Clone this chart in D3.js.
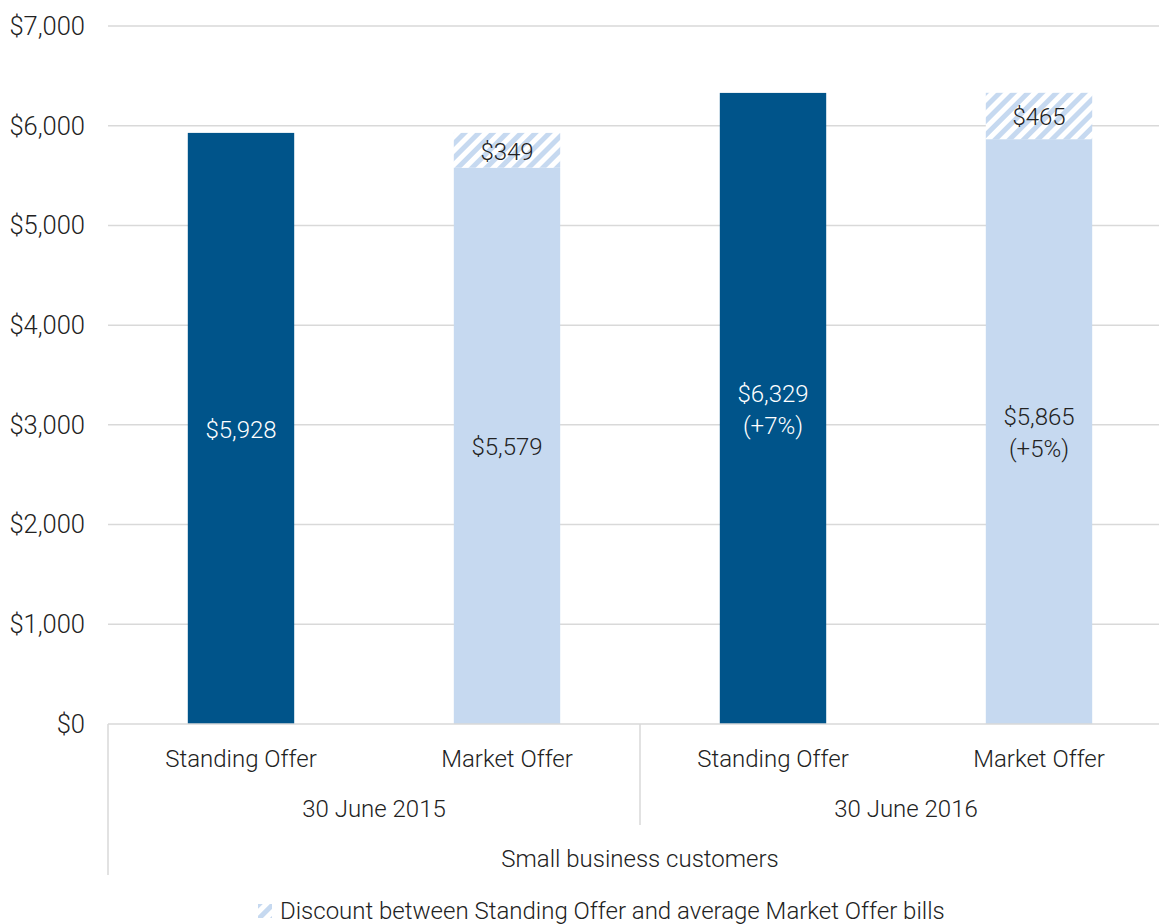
<!DOCTYPE html>
<html>
<head>
<meta charset="utf-8">
<script src="https://cdn.jsdelivr.net/npm/d3@7"></script>
<style>
  body { margin: 0; background: #fff; }
  svg text { font-family: Roboto, sans-serif; font-weight: 300; }
</style>
</head>
<body>
<div id="chart"></div>
<script>
var offers = ['Standing Offer', 'Market Offer', 'Standing Offer', 'Market Offer'];
var years = ['30 June 2015', '30 June 2016'];
var baseValues = [5928, 5579, 6329, 5865];
var discountValues = [0, 349, 0, 465];
var changeLabels = ['', '', '(+7%)', '(+5%)'];
var yTicks = [0, 1000, 2000, 3000, 4000, 5000, 6000, 7000];
var groupTitle = 'Small business customers';
var legendLabel = 'Discount between Standing Offer and average Market Offer bills';

var w = 1159, h = 924;
var plotL = 108, plotR = 1172, plotT = 26, plotB = 724;
var dark = '#00548a', light = '#c6d9f0';
var fs = '24px';

var svg = d3.select('#chart').append('svg')
  .attr('width', w).attr('height', h);

var defs = svg.append('defs');
var pat = defs.append('pattern')
  .attr('id', 'hatch')
  .attr('patternUnits', 'userSpaceOnUse')
  .attr('width', 10).attr('height', 10)
  .attr('patternTransform', 'rotate(45)');
pat.append('rect').attr('width', 10).attr('height', 10).attr('fill', '#fff');
pat.append('rect').attr('width', 5).attr('height', 10).attr('fill', light);

var x = d3.scaleBand()
  .domain(d3.range(offers.length))
  .range([plotL, plotR])
  .paddingInner(0.6).paddingOuter(0.3);

var y = d3.scaleLinear().domain([0, 7000]).range([plotB, plotT]);

// gridlines
svg.append('g').selectAll('line')
  .data(yTicks.slice(1))
  .enter().append('line')
  .attr('x1', plotL).attr('x2', w)
  .attr('y1', function(d) { return y(d); })
  .attr('y2', function(d) { return y(d); })
  .attr('stroke', '#d9d9d9').attr('stroke-width', 1.5);

// y axis labels
svg.append('g').selectAll('text')
  .data(yTicks)
  .enter().append('text')
  .attr('x', 85)
  .attr('y', function(d) { return y(d); })
  .attr('dy', '0.35em')
  .attr('text-anchor', 'end')
  .attr('font-size', '25.5px')
  .attr('fill', '#222')
  .text(function(d) { return '$' + d3.format(',')(d); });

// bars
var bars = svg.append('g');
bars.selectAll('rect.base')
  .data(baseValues)
  .enter().append('rect')
  .attr('class', 'base')
  .attr('x', function(d, i) { return x(i); })
  .attr('width', x.bandwidth())
  .attr('y', function(d) { return y(d); })
  .attr('height', function(d) { return plotB - y(d); })
  .attr('fill', function(d, i) { return i % 2 ? light : dark; });

bars.selectAll('rect.disc')
  .data(discountValues)
  .enter().append('rect')
  .attr('class', 'disc')
  .attr('x', function(d, i) { return x(i); })
  .attr('width', x.bandwidth())
  .attr('y', function(d, i) { return y(baseValues[i] + d); })
  .attr('height', function(d, i) { return y(baseValues[i]) - y(baseValues[i] + d); })
  .attr('fill', 'url(#hatch)');

// base labels
var fmt = function(v) { return '$' + d3.format(',')(v); };
baseValues.forEach(function(v, i) {
  var cx = x(i) + x.bandwidth() / 2;
  var cy = (y(v) + plotB) / 2;
  var t = svg.append('text')
    .attr('x', cx)
    .attr('text-anchor', 'middle')
    .attr('font-size', fs)
    .attr('fill', i % 2 ? '#222' : '#fff');
  if (changeLabels[i]) {
    t.attr('y', cy - 15).attr('dy', '0.35em');
    t.append('tspan').attr('x', cx).text(fmt(v));
    t.append('tspan').attr('x', cx).attr('dy', '1.35em').text(changeLabels[i]);
  } else {
    t.attr('y', cy + 1).attr('dy', '0.35em').text(fmt(v));
  }
});

discountValues.forEach(function(d, i) {
  if (!d) return;
  svg.append('text')
    .attr('x', x(i) + x.bandwidth() / 2)
    .attr('y', (y(baseValues[i]) + y(baseValues[i] + d)) / 2 + 1)
    .attr('dy', '0.35em')
    .attr('text-anchor', 'middle')
    .attr('font-size', fs)
    .attr('fill', '#222')
    .text(fmt(d));
});

// axis line and separators
svg.append('line')
  .attr('x1', plotL).attr('x2', w)
  .attr('y1', plotB).attr('y2', plotB)
  .attr('stroke', '#d9d9d9').attr('stroke-width', 1.5);
svg.append('line')
  .attr('x1', plotL).attr('x2', plotL)
  .attr('y1', plotB).attr('y2', 875)
  .attr('stroke', '#d9d9d9').attr('stroke-width', 1.5);
var mid = (plotL + plotR) / 2;
svg.append('line')
  .attr('x1', mid).attr('x2', mid)
  .attr('y1', plotB).attr('y2', 825)
  .attr('stroke', '#d9d9d9').attr('stroke-width', 1.5);

// category labels
svg.append('g').selectAll('text')
  .data(offers)
  .enter().append('text')
  .attr('x', function(d, i) { return x(i) + x.bandwidth() / 2; })
  .attr('y', 759).attr('dy', '0.35em')
  .attr('text-anchor', 'middle')
  .attr('font-size', fs)
  .attr('fill', '#222')
  .text(function(d) { return d; });

svg.append('g').selectAll('text')
  .data(years)
  .enter().append('text')
  .attr('x', function(d, i) { return plotL + (plotR - plotL) / 4 * (2 * i + 1); })
  .attr('y', 809).attr('dy', '0.35em')
  .attr('text-anchor', 'middle')
  .attr('font-size', fs)
  .attr('fill', '#222')
  .text(function(d) { return d; });

svg.append('text')
  .attr('x', mid).attr('y', 859).attr('dy', '0.35em')
  .attr('text-anchor', 'middle')
  .attr('font-size', fs)
  .attr('fill', '#222')
  .text(groupTitle);

// legend
var lg = svg.append('g');
lg.append('rect')
  .attr('x', 258).attr('y', 904)
  .attr('width', 14).attr('height', 14)
  .attr('fill', 'url(#hatch)');
lg.append('text')
  .attr('x', 280).attr('y', 911).attr('dy', '0.35em')
  .attr('font-size', fs)
  .attr('fill', '#222')
  .text(legendLabel);
</script>
</body>
</html>
